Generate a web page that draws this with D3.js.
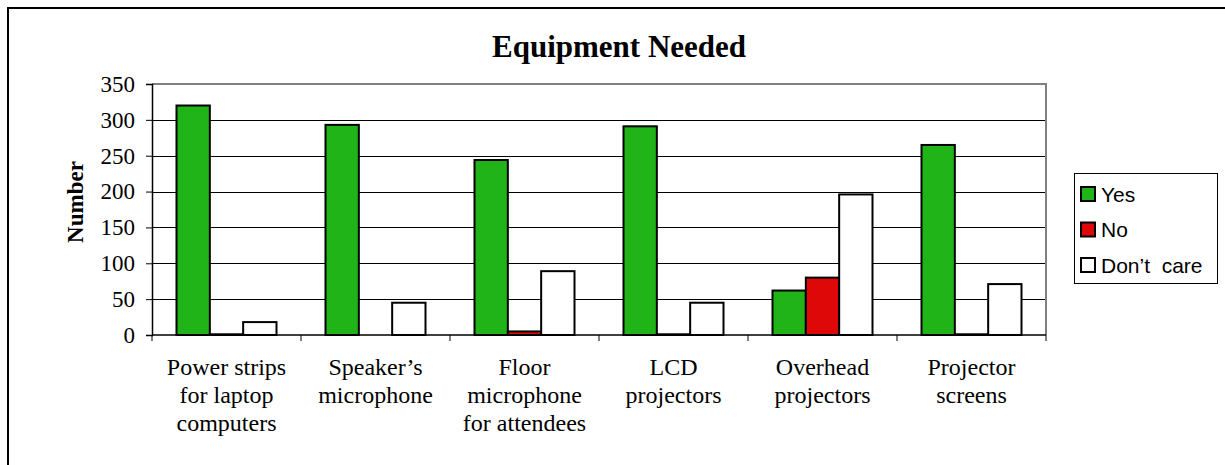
<!DOCTYPE html>
<html>
<head>
<meta charset="utf-8">
<script src="https://cdn.jsdelivr.net/npm/d3@7"></script>
<style>
  body { margin: 0; background: #fff; }
  svg { display: block; }
</style>
</head>
<body>
<svg id="chart" width="1225" height="465"></svg>
<script>
// chart data
const categories = [
  ["Power strips", "for laptop", "computers"],
  ["Speaker\u2019s", "microphone"],
  ["Floor", "microphone", "for attendees"],
  ["LCD", "projectors"],
  ["Overhead", "projectors"],
  ["Projector", "screens"]
];
const seriesNames = ["Yes", "No", "Don\u2019t  care"];
const yesValues = [320, 293, 244, 291, 62, 265];
const noValues = [1, 0, 5, 1, 80, 1];
const dontCareValues = [18, 45, 89, 45, 196, 71];
const yTicks = [0, 50, 100, 150, 200, 250, 300, 350];

const COLORS = ["#20b419", "#de0808", "#ffffff"];
const SERIF = "'Liberation Serif', 'Times New Roman', serif";
const SANS = "'Liberation Sans', Arial, sans-serif";

const svg = d3.select("#chart");

// outer frame (runs off the right and bottom edges)
svg.append("rect")
  .attr("x", 8).attr("y", 8)
  .attr("width", 1240).attr("height", 480)
  .attr("fill", "none").attr("stroke", "#000").attr("stroke-width", 2);

const plot = { left: 152, right: 1046, top: 84, bottom: 335 };

const catKeys = categories.map((c, i) => i);
const x = d3.scaleBand().domain(catKeys).range([plot.left, plot.right]);
const xInner = d3.scaleBand().domain(d3.range(seriesNames.length))
  .range([0, x.bandwidth()]).paddingOuter(0.735);
const y = d3.scaleLinear().domain([0, 350]).range([plot.bottom, plot.top]);

// gridlines
svg.append("g")
  .selectAll("line")
  .data(yTicks.filter(t => t > 0))
  .join("line")
  .attr("x1", plot.left).attr("x2", plot.right)
  .attr("y1", d => Math.round(y(d)) + 0.5).attr("y2", d => Math.round(y(d)) + 0.5)
  .attr("stroke", "#000").attr("stroke-width", 1);

// plot area border (grey top / right)
svg.append("path")
  .attr("d", `M${plot.left},${plot.top}H${plot.right}V${plot.bottom}`)
  .attr("fill", "none").attr("stroke", "#808080").attr("stroke-width", 2);

// bars
const seriesValues = [yesValues, noValues, dontCareValues];
const groups = svg.append("g").selectAll("g")
  .data(catKeys)
  .join("g")
  .attr("transform", d => `translate(${x(d)},0)`);

groups.selectAll("rect")
  .data(ci => seriesValues.map((vals, si) => ({ si, v: vals[ci] })))
  .join("rect")
  .attr("x", d => xInner(d.si))
  .attr("width", xInner.bandwidth())
  .attr("y", d => y(d.v))
  .attr("height", d => y(0) - y(d.v))
  .attr("fill", d => COLORS[d.si])
  .attr("stroke", "#000").attr("stroke-width", 2);

// y axis
const yAxis = svg.append("g")
  .attr("transform", `translate(${plot.left},0)`)
  .call(d3.axisLeft(y).tickValues(yTicks).tickSize(6).tickPadding(11));
yAxis.select(".domain").attr("stroke", "#000").attr("stroke-width", 1.5);
yAxis.selectAll(".tick line").attr("stroke", "#000");
yAxis.selectAll("text")
  .attr("font-family", SERIF).attr("font-size", 23).attr("fill", "#000");

// x axis: baseline plus ticks at the category boundaries
svg.append("line")
  .attr("x1", plot.left).attr("x2", plot.right)
  .attr("y1", plot.bottom).attr("y2", plot.bottom)
  .attr("stroke", "#000").attr("stroke-width", 1.5);
svg.append("g").selectAll("line")
  .data(catKeys.concat([categories.length]))
  .join("line")
  .attr("x1", d => d < categories.length ? x(d) : plot.right)
  .attr("x2", d => d < categories.length ? x(d) : plot.right)
  .attr("y1", plot.bottom).attr("y2", plot.bottom + 6)
  .attr("stroke", "#000").attr("stroke-width", 1);

// category labels
const labels = svg.append("g").selectAll("text")
  .data(catKeys)
  .join("text")
  .attr("x", d => x(d) + x.bandwidth() / 2)
  .attr("y", 375)
  .attr("text-anchor", "middle")
  .attr("font-family", SERIF).attr("font-size", 24).attr("fill", "#000");
labels.selectAll("tspan")
  .data(d => categories[d].map((line, li) => ({ line, li, cx: x(d) + x.bandwidth() / 2 })))
  .join("tspan")
  .attr("x", d => d.cx)
  .attr("dy", d => d.li === 0 ? 0 : 28)
  .text(d => d.line);

// title
svg.append("text")
  .attr("x", 619).attr("y", 57)
  .attr("text-anchor", "middle")
  .attr("font-family", SERIF).attr("font-size", 31).attr("font-weight", "bold")
  .text("Equipment Needed");

// y axis title
svg.append("text")
  .attr("transform", "translate(83,202) rotate(-90)")
  .attr("text-anchor", "middle")
  .attr("font-family", SERIF).attr("font-size", 23).attr("font-weight", "bold")
  .text("Number");

// legend
const legend = svg.append("g").attr("transform", "translate(1074,173)");
legend.append("rect")
  .attr("x", 0.5).attr("y", 0.5).attr("width", 143).attr("height", 110)
  .attr("fill", "#fff").attr("stroke", "#000").attr("stroke-width", 1);
const items = legend.selectAll("g.item")
  .data(seriesNames)
  .join("g")
  .attr("class", "item")
  .attr("transform", (d, i) => `translate(0,${21 + i * 35.5})`);
items.append("rect")
  .attr("x", 7).attr("y", -7).attr("width", 14).attr("height", 14)
  .attr("fill", (d, i) => COLORS[i])
  .attr("stroke", "#000").attr("stroke-width", 2);
items.append("text")
  .attr("x", 27).attr("y", 7.5)
  .attr("font-family", SANS).attr("font-size", 21)
  .style("white-space", "pre")
  .text(d => d);
</script>
</body>
</html>
